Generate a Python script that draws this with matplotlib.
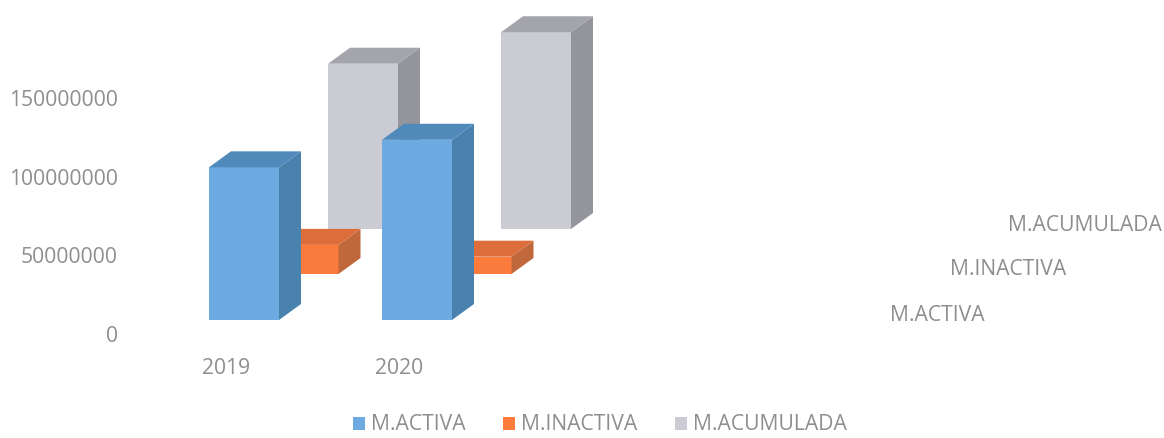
import matplotlib
matplotlib.use("Agg")
import matplotlib.pyplot as plt
from matplotlib.patches import Polygon, Patch
from matplotlib.transforms import Affine2D

years = ["2019", "2020"]
series_names = ["M.ACTIVA", "M.INACTIVA", "M.ACUMULADA"]
m_activa = [97000000, 114500000]
m_inactiva = [18500000, 11000000]
m_acumulada = [105000000, 125000000]
series_values = [m_activa, m_inactiva, m_acumulada]
yticks = [0, 50000000, 100000000, 150000000]

front = ["#6DAAE2", "#FB7B3C", "#CBCBD3"]
side = ["#4A82AE", "#C0683C", "#94949C"]
top = ["#508ABA", "#DD6E3C", "#A4A4AC"]
TXT = "#8E8E8E"
plt.rcParams["font.family"] = ["Open Sans", "DejaVu Sans"]
FS = 15.2

W, H = 1164, 438
fig = plt.figure(figsize=(W / 100, H / 100), dpi=100)
L, R, T_, B = 139.5, 485.5, 19.2, 334
ax = fig.add_axes([L / W, (H - B) / H, (R - L) / W, (B - T_) / H])
ax.set_xlim(-0.5, 1.5)
ax.set_ylim(0, 200000000)
px_x = (R - L) / 2
px_y = (B - T_) / 200000000

bar_w = 70 / px_x
depth_x = 22 / px_x
depth_y = 16 / px_y
# pixel shift of each series row going back into the chart
shift = [(18, 14), (77.5, 60), (137, 105)]

for s in (2, 1, 0):
    tr = ax.transData + Affine2D().translate(*shift[s])
    for i, v in enumerate(series_values[s]):
        l, r = i - bar_w / 2, i + bar_w / 2
        z = 3 + 2 * (2 - s) + i * 0.1
        ax.bar(i, v, bar_w, color=front[s], transform=tr, clip_on=False, zorder=z, linewidth=0)
        ax.add_patch(Polygon([(r, 0), (r + depth_x, depth_y), (r + depth_x, v + depth_y), (r, v)],
                             closed=True, fc=side[s], ec="none", transform=tr, clip_on=False, zorder=z))
        ax.add_patch(Polygon([(l, v), (l + depth_x, v + depth_y), (r + depth_x, v + depth_y), (r, v)],
                             closed=True, fc=top[s], ec="none", transform=tr, clip_on=False, zorder=z))

ax.set_xlim(-0.5, 1.5)
ax.set_ylim(0, 200000000)
ax.set_xticks(range(len(years)), years)
ax.set_yticks(yticks, [str(t) for t in yticks])
ax.tick_params(length=0, labelsize=FS, labelcolor=TXT)
ax.tick_params(axis="y", pad=15.5)
ax.tick_params(axis="x", pad=17)
for sp in ax.spines.values():
    sp.set_visible(False)

# depth-axis series labels, placed in figure pixels
label_pos = [(937, 315.5), (1008, 269.5), (1085, 225.5)]
for name, (x, y) in zip(series_names, label_pos):
    fig.text(x / W, (H - y) / H, name, ha="center", va="center", fontsize=FS, color=TXT)

handles = [Patch(fc=c, ec="none") for c in front]
fig.legend(handles, series_names, loc="center", bbox_to_anchor=(600 / W, (H - 425) / H), ncol=3,
           frameon=False, fontsize=FS, labelcolor=TXT, handlelength=0.57, handleheight=0.57,
           handletextpad=0.3, columnspacing=1.75, borderpad=0)

fig.savefig("out.png", dpi=100, facecolor="white")
